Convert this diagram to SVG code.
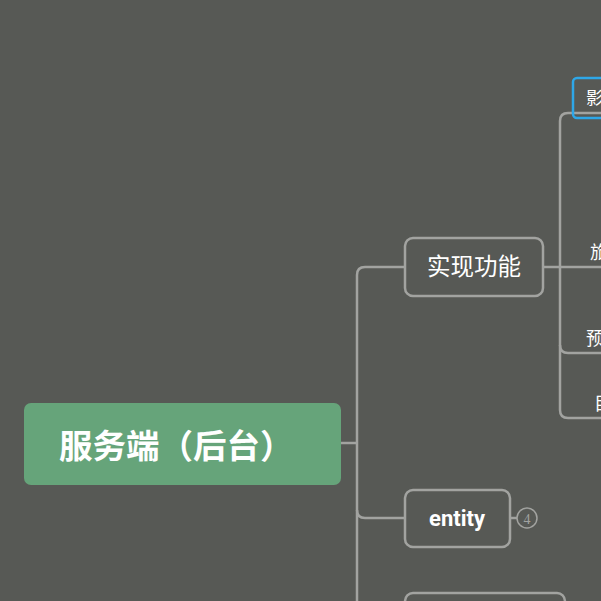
<svg xmlns="http://www.w3.org/2000/svg" width="601" height="601" viewBox="0 0 601 601">
<style>
.ln{fill:none;stroke:#a2a3a0;stroke-width:2.5}
.box{fill:#575955;stroke:#a2a3a0;stroke-width:2.5}
.t{font-family:"Noto Sans CJK SC","Noto Sans",sans-serif;fill:#ffffff}
</style>
<rect width="601" height="601" fill="#575955"/>
<g id="connectors">
<path class="ln" d="M341 443 H357"/>
<path class="ln" d="M405 267 H365 Q357 267 357 275 V601"/>
<path class="ln" d="M357 510 Q357 518 365 518 H405"/>
<path class="ln" d="M510 518 H517"/>
<path class="ln" d="M543 267 H601"/>
<path class="ln" d="M601 113 H568 Q560 113 560 121 V410 Q560 418 568 418 H601"/>
<path class="ln" d="M560 345 Q560 353 568 353 H601"/>
</g>
<g id="root">
<rect x="24" y="403" width="317" height="82" rx="7" fill="#66a47a"/>
<text class="t" x="59" y="458" font-size="33.5" font-weight="bold">服务端（后台）</text>
</g>
<g id="n-shixian">
<rect class="box" x="405" y="238" width="138" height="58" rx="8"/>
<text class="t" x="474" y="275" font-size="23.5" text-anchor="middle">实现功能</text>
</g>
<g id="n-entity">
<rect class="box" x="405" y="490" width="105" height="57" rx="8"/>
<text x="457" y="526" font-size="22" font-weight="bold" text-anchor="middle" font-family="Roboto,'Liberation Sans',sans-serif" fill="#ffffff">entity</text>
<circle cx="527" cy="518" r="10" fill="none" stroke="#a2a3a0" stroke-width="1.5"/>
<text x="527" y="523.5" font-size="14" text-anchor="middle" font-family="'Liberation Serif',serif" fill="#a2a3a0">4</text>
</g>
<g id="n-bottom">
<rect class="box" x="405" y="593" width="160" height="40" rx="8"/>
</g>
<g id="c1">
<rect x="573" y="78" width="40" height="40" rx="4" fill="none" stroke="#2ea7e8" stroke-width="2.5"/>
<text class="t" x="586" y="104" font-size="17">影</text>
</g>
<g id="c2">
<text class="t" x="590" y="259" font-size="18">旅</text>
</g>
<g id="c3">
<text class="t" x="586" y="345" font-size="18">预</text>
</g>
<g id="c4">
<text class="t" x="594" y="410" font-size="18">目</text>
</g>
</svg>
